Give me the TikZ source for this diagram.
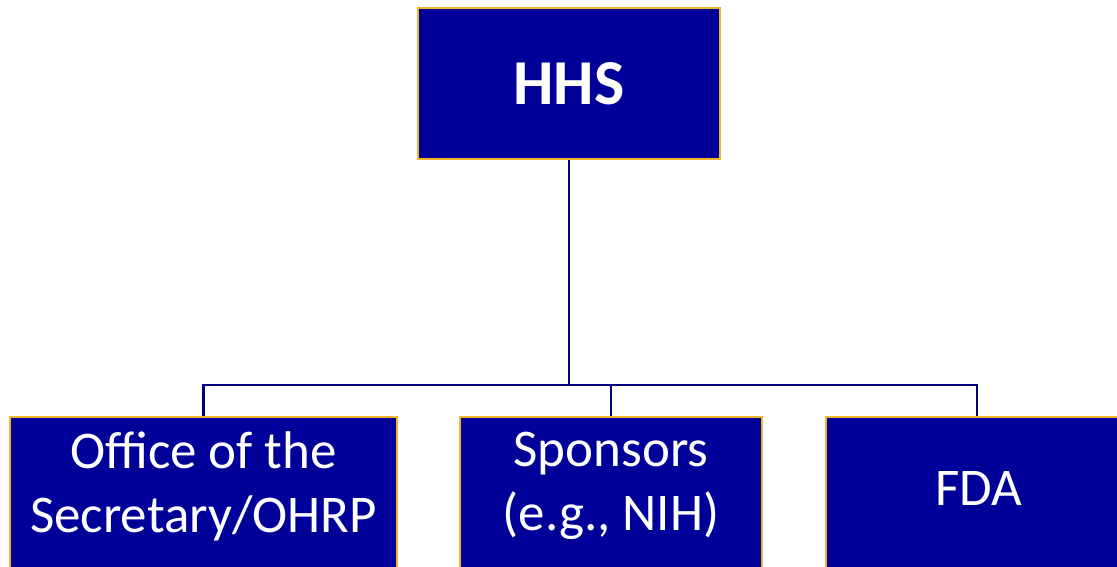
\documentclass[tikz,border=0pt]{standalone}
\usepackage{fontspec}
\setmainfont{Carlito}
\usepackage{tikz}
\definecolor{hhsblue}{RGB}{0,0,153}
\definecolor{hhsgold}{RGB}{240,182,40}
\definecolor{hhsline}{RGB}{0,0,128}
\tikzstyle{unit}=[rectangle, draw=hhsgold, fill=hhsblue, line width=2.4pt, inner sep=0pt]
\tikzstyle{unittext}=[text=white, align=center, inner sep=0pt, font=\fontsize{53}{64}\selectfont]
\tikzstyle{link}=[draw=hhsline, line width=2.8pt]
\newcommand{\unit}{\node[unit]}

\begin{document}
\begin{tikzpicture}[x=1pt, y=-1pt]
            \useasboundingbox (0,0) rectangle (1117,566);

            \unit (hhs) at (569,83.5) [minimum width=302, minimum height=151,
                  text=white, font=\fontsize{64}{70}\selectfont\bfseries]{HHS};

            \unit (osec) at (203.5,416) [anchor=north, minimum width=387, minimum height=180]{};
            \unit (spons) at (611,416) [anchor=north, minimum width=302, minimum height=180]{};
            \unit (fda) at (977,416) [anchor=north, minimum width=302, minimum height=180]{};

            \node[unittext] (osect) at (203.5,486) {Office of the\\Secretary/OHRP};
            \node[unittext] (sponst) at (611,486) {Sponsors\\(e.g., NIH)};
            \node[unittext] (fdat) at (979,488) {FDA};

            \coordinate (bus) at (569,385);

            \path[link]
                (hhs.south) -- (bus)
                (bus) -| (osec.north)
                (bus) -| (spons.north)
                (bus) -| (fda.north)
            ;
        \end{tikzpicture}
\end{document}
